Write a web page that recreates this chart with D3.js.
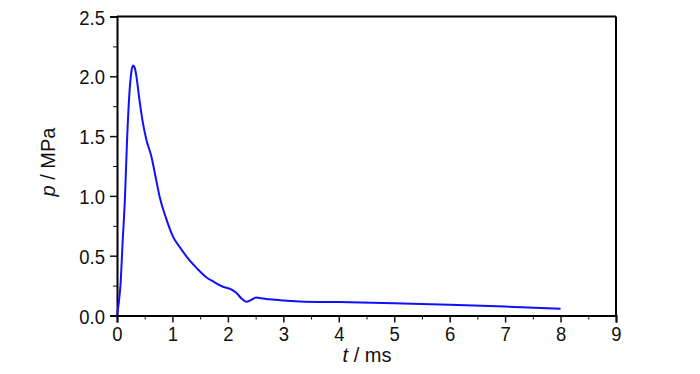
<!DOCTYPE html>
<html>
<head>
<meta charset="utf-8">
<script src="https://cdn.jsdelivr.net/npm/d3@7"></script>
<style>
  body { margin: 0; background: #fff; }
  text { font-family: "Liberation Sans", Arial, sans-serif; }
</style>
</head>
<body>
<div id="chart"></div>
<script>
// time in ms, pressure in MPa
var timeMs = [0, 0.03, 0.065, 0.1, 0.144, 0.18, 0.22, 0.26, 0.29, 0.32, 0.35, 0.4, 0.46, 0.53, 0.62, 0.7, 0.77, 0.88, 1.01, 1.15, 1.31, 1.45, 1.61, 1.75, 1.91, 2.05, 2.15, 2.25, 2.33, 2.42, 2.51, 2.6, 2.75, 3.0, 3.3, 4, 5, 6, 7, 8];
var pressure = [0, 0.1, 0.27, 0.6, 0.99, 1.45, 1.83, 2.04, 2.09, 2.07, 2.0, 1.82, 1.63, 1.47, 1.33, 1.15, 0.99, 0.82, 0.66, 0.56, 0.46, 0.39, 0.32, 0.28, 0.24, 0.22, 0.19, 0.14, 0.115, 0.13, 0.15, 0.145, 0.135, 0.125, 0.118, 0.112, 0.102, 0.09, 0.075, 0.057];
var xTicks = [0, 1, 2, 3, 4, 5, 6, 7, 8, 9];
var yTicks = [0, 0.5, 1.0, 1.5, 2.0, 2.5];

var svgWidth = 700, svgHeight = 374;
var margin = { top: 16.5, right: 84, bottom: 58.5, left: 117 };
var chartWidth = svgWidth - margin.left - margin.right;
var chartHeight = svgHeight - margin.top - margin.bottom;
var squeeze = 0.88; // tick labels in the reference are a narrow face

var svg = d3.select("#chart")
    .append("svg")
    .attr("width", svgWidth)
    .attr("height", svgHeight);

var chartGroup = svg.append("g")
    .attr("transform", `translate(${margin.left}, ${margin.top})`);

var xScale = d3.scaleLinear().domain([0, 9]).range([0, chartWidth]);
var yScale = d3.scaleLinear().domain([0, 2.5]).range([chartHeight, 0]);

// minor ticks
var xMinor = d3.range(0.5, 9, 1);
var yMinor = d3.range(0.25, 2.5, 0.5);

chartGroup.append("g")
    .attr("transform", `translate(0, ${chartHeight})`)
    .call(d3.axisBottom(xScale).tickValues(xMinor).tickSize(4).tickFormat(""))
    .call(g => g.select(".domain").remove());

chartGroup.append("g")
    .call(d3.axisLeft(yScale).tickValues(yMinor).tickSize(4).tickFormat(""))
    .call(g => g.select(".domain").remove());

// major axes
var xAxis = chartGroup.append("g")
    .attr("transform", `translate(0, ${chartHeight})`)
    .call(d3.axisBottom(xScale).tickValues(xTicks).tickSize(7).tickPadding(4).tickFormat(d3.format("d")));

var yAxis = chartGroup.append("g")
    .call(d3.axisLeft(yScale).tickValues(yTicks).tickSize(7).tickPadding(5).tickFormat(d3.format(".1f")));

[xAxis, yAxis].forEach(function (ax) {
    ax.selectAll("text")
        .style("font-size", "21px")
        .attr("fill", "#111")
        .attr("transform", `scale(${squeeze},1)`);
    ax.select(".domain").attr("stroke-width", 2);
    ax.selectAll(".tick line").attr("stroke-width", 1.5);
});
yAxis.selectAll("text").attr("x", -12 / squeeze).attr("dy", "0.36em");
chartGroup.selectAll(".tick line").attr("stroke", "#111");

// top and right frame
chartGroup.append("line")
    .attr("x1", 0).attr("x2", chartWidth).attr("y1", 0).attr("y2", 0)
    .attr("stroke", "#000").attr("stroke-width", 2);
chartGroup.append("line")
    .attr("x1", chartWidth).attr("x2", chartWidth).attr("y1", 0).attr("y2", chartHeight)
    .attr("stroke", "#000").attr("stroke-width", 2);

// the curve
var line = d3.line()
    .x((d, i) => xScale(timeMs[i]))
    .y(d => yScale(d))
    .curve(d3.curveMonotoneX);

chartGroup.append("path")
    .datum(pressure)
    .attr("d", line)
    .attr("fill", "none")
    .attr("stroke", "#1010ff")
    .attr("stroke-width", 2);

// axis titles
var xTitle = svg.append("text")
    .attr("x", 367)
    .attr("y", 362)
    .attr("text-anchor", "middle")
    .style("font-size", "20px")
    .attr("fill", "#111");
xTitle.append("tspan").style("font-style", "italic").text("t");
xTitle.append("tspan").text(" / ms");

var yTitle = svg.append("text")
    .attr("transform", "translate(55, 162) rotate(-90)")
    .attr("text-anchor", "middle")
    .style("font-size", "20px")
    .attr("fill", "#111");
yTitle.append("tspan").style("font-style", "italic").text("p");
yTitle.append("tspan").text(" / MPa");
</script>
</body>
</html>
